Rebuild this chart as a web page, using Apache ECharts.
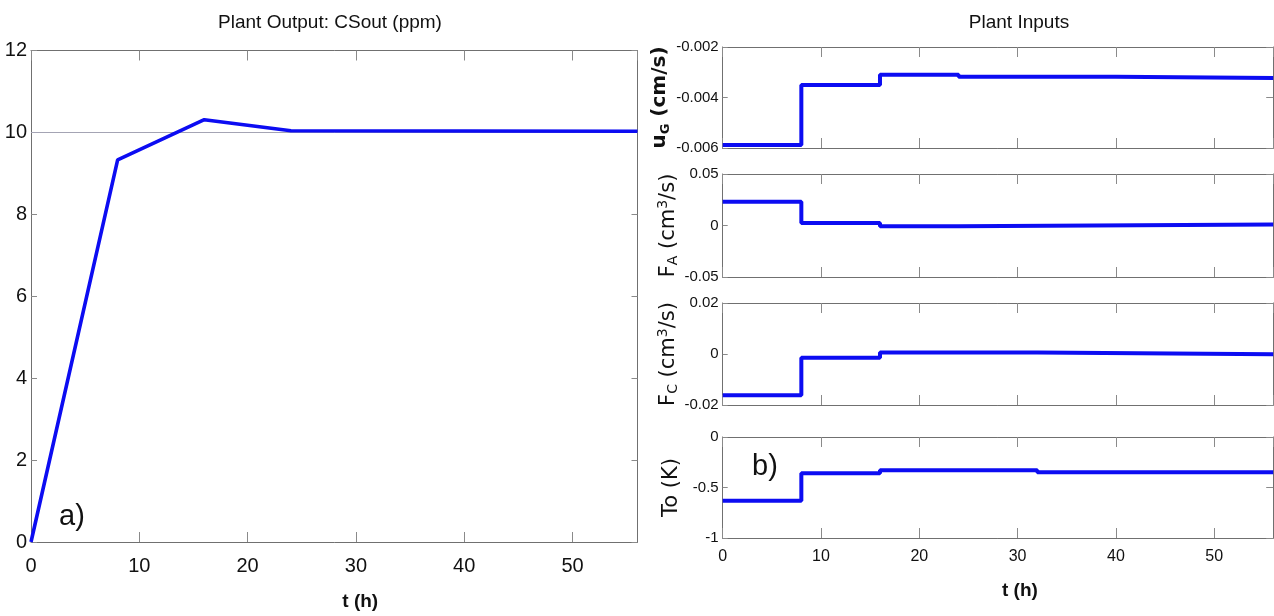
<!DOCTYPE html>
<html>
<head>
<meta charset="utf-8">
<script src="https://cdn.jsdelivr.net/npm/echarts@6/dist/echarts.min.js"></script>
<style>
html,body{margin:0;padding:0;background:#fff;}
#c{width:1274px;height:616px;}
</style>
</head>
<body>
<div id="c"></div>
<script>
// ---- data ----
const tCS = [0, 8, 16, 24, 56];
const csOut = [0, 9.33, 10.31, 10.04, 10.03];
const csSetpoint = 10;

const tUG = [0, 8, 16, 24, 40, 56];
const uG = [-0.00588, -0.00350, -0.00310, -0.00318, -0.00323, -0.00323];

const tFA = [0, 8, 16, 24, 56];
const FA = [0.023, 0.0024, -0.0008, 0.001, 0.001];

const tFC = [0, 8, 16, 32, 56];
const FC = [-0.0162, -0.0015, 0.0006, -0.0001, -0.0001];

const tTo = [0, 8, 16, 32, 56];
const To = [-0.63, -0.36, -0.33, -0.35, -0.35];

const tRange = [0, 56];
const tStep = 10;
const csRange = [0, 12], csStep = 2;
const uGRange = [-0.006, -0.002], uGStep = 0.002;
const FARange = [-0.05, 0.05], FAStep = 0.05;
const FCRange = [-0.02, 0.02], FCStep = 0.02;
const ToRange = [-1, 0], ToStep = 0.5;

// ---- helpers ----
const zip = (xs, ys) => xs.map((x, i) => [x, ys[i]]);
const SANS = '"Liberation Sans",Arial,sans-serif';
const LINE = '#707070';
const TICK = '#8a8a8a';
const BLUE = '#0c0cf2';

function xAxis(grid, pos, labelSize, showLabel, nameGap, nameShift, tickLen, margin) {
  const a = {
    type: 'value', gridIndex: grid, position: pos,
    min: tRange[0], max: tRange[1], interval: tStep,
    axisLine: {show: true, onZero: false, lineStyle: {color: LINE, width: 1}},
    axisTick: {show: true, inside: true, length: tickLen, lineStyle: {color: TICK}},
    axisLabel: {show: showLabel, showMaxLabel: false, fontFamily: SANS, fontSize: labelSize, color: '#111', margin: margin},
    splitLine: {show: false}
  };
  if (showLabel && pos === 'bottom') {
    a.name = 't (h)';
    a.nameLocation = 'middle';
    a.nameGap = nameGap;
    a.nameTextStyle = {fontFamily: SANS, fontWeight: 'bold', fontSize: 19, color: '#111', padding: [0, 0, 0, nameShift]};
  }
  return a;
}

function yAxis(grid, pos, range, step, labelSize, showLabel, fmt, name, nameRich, tickLen, nameGap) {
  const a = {
    type: 'value', gridIndex: grid, position: pos,
    min: range[0], max: range[1], interval: step,
    axisLine: {show: true, onZero: false, lineStyle: {color: LINE, width: 1}},
    axisTick: {show: true, inside: true, length: tickLen, lineStyle: {color: TICK}},
    axisLabel: {show: showLabel, fontFamily: SANS, fontSize: labelSize, color: '#111', margin: 4, formatter: fmt},
    splitLine: {show: false}
  };
  if (name) {
    a.name = name;
    a.nameLocation = 'middle';
    a.nameRotate = 90;
    a.nameGap = nameGap;
    a.nameTextStyle = {rich: nameRich};
  }
  return a;
}

const base = {fontFamily: '"DejaVu Sans",sans-serif', fontSize: 21, color: '#111', lineHeight: 24, verticalAlign: 'middle'};
const richReg = {
  m: Object.assign({}, base),
  sub: Object.assign({}, base, {fontSize: 14, lineHeight: 14, verticalAlign: 'bottom'}),
  sup: Object.assign({}, base, {fontSize: 14, lineHeight: 14, verticalAlign: 'top'})
};
const richBold = {
  m: Object.assign({}, base, {fontWeight: 'bold', fontSize: 20}),
  sub: Object.assign({}, base, {fontWeight: 'bold', fontSize: 13, lineHeight: 13, verticalAlign: 'bottom'})
};

const fmt = d => v => (Math.abs(v) < 1e-12 ? '0' : v.toFixed(d));
const fmtGen = v => String(Math.round(v * 1e6) / 1e6);

const rightLeft = 722.7, rightW = 550.5;
const grids = [
  {left: 31, top: 50.5, width: 606.5, height: 497},
  {left: rightLeft, top: 47, width: rightW, height: 101},
  {left: rightLeft, top: 174, width: rightW, height: 103},
  {left: rightLeft, top: 303, width: rightW, height: 102},
  {left: rightLeft, top: 437, width: rightW, height: 101}
];

const xAxes = [
  xAxis(0, 'bottom', 20, true, 50, 52, 10, 14),
  xAxis(0, 'top', 20, false, 0, 0, 10, 8)
];
for (let g = 1; g <= 4; g++) {
  xAxes.push(xAxis(g, 'bottom', 16, g === 4, 43, 44, 10, 11));
  xAxes.push(xAxis(g, 'top', 16, false, 0, 0, 10, 8));
}

const yAxes = [
  yAxis(0, 'left', csRange, csStep, 20, true, fmtGen, null, null, 6),
  yAxis(0, 'right', csRange, csStep, 20, false, fmtGen, null, null, 6),
  yAxis(1, 'left', uGRange, uGStep, 15, true, fmt(3), '{m|u}{sub|G}{m| (cm/s)}', richBold, 5, 29),
  yAxis(1, 'right', uGRange, uGStep, 15, false, fmt(3), null, null, 7),
  yAxis(2, 'left', FARange, FAStep, 15, true, fmt(2), '{m|F}{sub|A}{m| (cm}{sup|3}{m|/s)}', richReg, 5, 36),
  yAxis(2, 'right', FARange, FAStep, 15, false, fmt(2), null, null, 7),
  yAxis(3, 'left', FCRange, FCStep, 15, true, fmt(2), '{m|F}{sub|C}{m| (cm}{sup|3}{m|/s)}', richReg, 5, 36),
  yAxis(3, 'right', FCRange, FCStep, 15, false, fmt(2), null, null, 7),
  yAxis(4, 'left', ToRange, ToStep, 15, true, fmtGen, '{m|To (K)}', richReg, 5, 39),
  yAxis(4, 'right', ToRange, ToStep, 15, false, fmtGen, null, null, 7)
];

function stepSeries(gi, xs, ys) {
  return {
    type: 'line', xAxisIndex: gi * 2, yAxisIndex: gi * 2, step: 'end',
    data: zip(xs, ys), showSymbol: false, symbol: 'none',
    lineStyle: {color: BLUE, width: 4}, z: 5
  };
}

const series = [
  {
    type: 'line', xAxisIndex: 0, yAxisIndex: 0,
    data: zip(tCS, csOut), showSymbol: false, symbol: 'none',
    lineStyle: {color: BLUE, width: 3.6}, z: 5,
    markLine: {
      silent: true, symbol: ['none', 'none'], label: {show: false},
      lineStyle: {color: '#a4a4b4', width: 1, type: 'solid'},
      data: [{yAxis: csSetpoint}]
    }
  },
  stepSeries(1, tUG, uG),
  stepSeries(2, tFA, FA),
  stepSeries(3, tFC, FC),
  stepSeries(4, tTo, To)
];

const chart = echarts.init(document.getElementById('c'), null, {renderer: 'canvas'});
chart.setOption({
  animation: false,
  backgroundColor: '#fff',
  grid: grids,
  xAxis: xAxes,
  yAxis: yAxes,
  series: series,
  graphic: [
    {type: 'text', x: 330, y: 23, style: {text: 'Plant Output: CSout (ppm)', font: '19px ' + SANS, fill: '#111', align: 'center', verticalAlign: 'middle'}},
    {type: 'text', x: 1019, y: 23, style: {text: 'Plant Inputs', font: '19px ' + SANS, fill: '#111', align: 'center', verticalAlign: 'middle'}},
    {type: 'text', x: 72, y: 517, style: {text: 'a)', font: '29px ' + SANS, fill: '#111', align: 'center', verticalAlign: 'middle'}},
    {type: 'text', x: 765, y: 467, style: {text: 'b)', font: '29px ' + SANS, fill: '#111', align: 'center', verticalAlign: 'middle'}}
  ]
});
</script>
</body>
</html>
